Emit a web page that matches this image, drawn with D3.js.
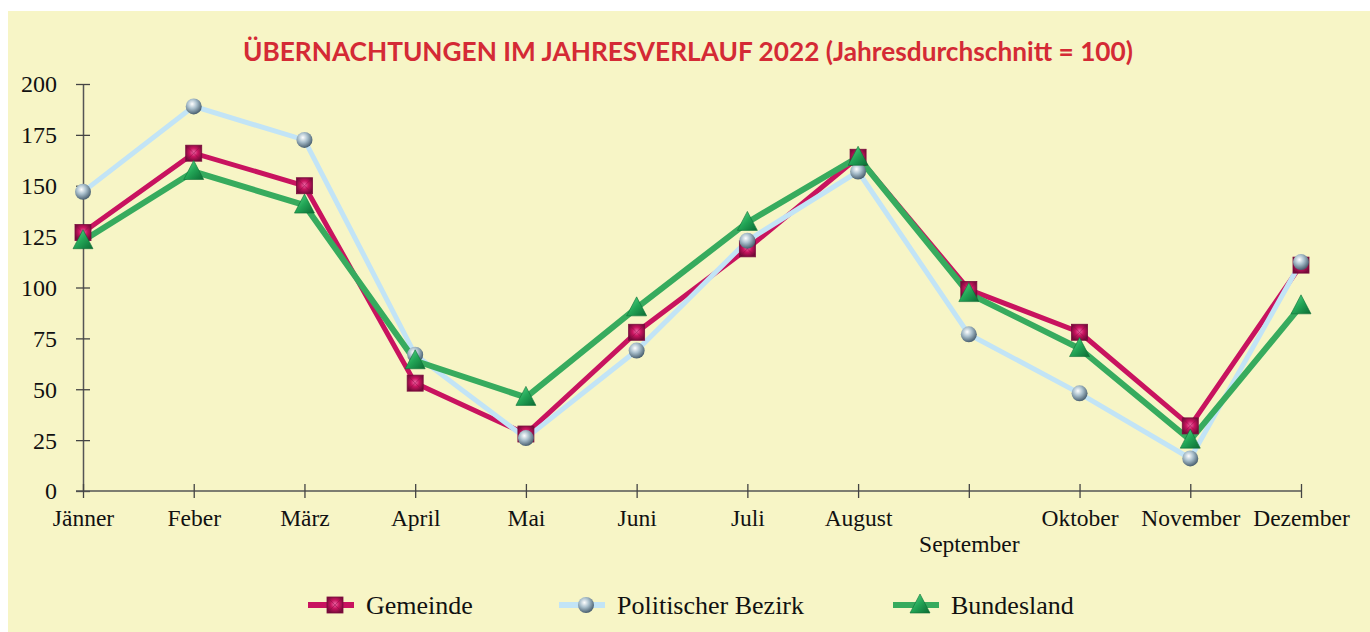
<!DOCTYPE html>
<html><head><meta charset="utf-8">
<script src="https://cdn.jsdelivr.net/npm/d3@7"></script>
<style>html,body{margin:0;padding:0;background:#fff;}svg{display:block;}</style>
</head><body>
<svg id="chart" width="1370" height="632"></svg>
<script>
const months = ["Jänner","Feber","März","April","Mai","Juni","Juli","August","September","Oktober","November","Dezember"];
const gemeinde = [127,166,150,53,28,78,119,164,99,78,32,111];
const bezirk   = [147,189,172.5,67,26,69,123,157,77,48,16,112.5];
const bundesland = [123,157,140.5,64,46,90,132,164,97,70,25,91];
const yTicks = [0,25,50,75,100,125,150,175,200];
const seriesNames = ["Gemeinde","Politischer Bezirk","Bundesland"];

const svg = d3.select("#chart");
const defs = svg.append("defs");

// background
svg.append("rect").attr("x",8).attr("y",11).attr("width",1362).attr("height",621).attr("fill","#f7f5c6");

// gradients
const gSq = defs.append("radialGradient").attr("id","gSq").attr("cx","50%").attr("cy","45%").attr("r","60%");
gSq.append("stop").attr("offset","0%").attr("stop-color","#f06aa8");
gSq.append("stop").attr("offset","45%").attr("stop-color","#c8145f");
gSq.append("stop").attr("offset","100%").attr("stop-color","#6e0a36");
const gCi = defs.append("radialGradient").attr("id","gCi").attr("cx","40%").attr("cy","35%").attr("r","65%");
gCi.append("stop").attr("offset","0%").attr("stop-color","#ffffff");
gCi.append("stop").attr("offset","45%").attr("stop-color","#a9bfcc");
gCi.append("stop").attr("offset","100%").attr("stop-color","#4a6070");
const gTr = defs.append("linearGradient").attr("id","gTr").attr("x1","0%").attr("y1","0%").attr("x2","100%").attr("y2","100%");
gTr.append("stop").attr("offset","0%").attr("stop-color","#5fe08f");
gTr.append("stop").attr("offset","50%").attr("stop-color","#22a556");
gTr.append("stop").attr("offset","100%").attr("stop-color","#0b6a33");

const x = d3.scalePoint().domain(months).range([83,1301]);
const y = d3.scaleLinear().domain([0,200]).range([491,84]);

const serif = "'Liberation Serif','Times New Roman',serif";

// title
svg.append("text").attr("x",688).attr("y",61).attr("text-anchor","middle")
  .attr("font-family","Lato, 'Open Sans', sans-serif").attr("font-weight","bold").attr("font-size",26)
  .attr("fill","#d42a35").attr("textLength",890).attr("lengthAdjust","spacingAndGlyphs")
  .text("ÜBERNACHTUNGEN IM JAHRESVERLAUF 2022 (Jahresdurchschnitt = 100)");

// y axis
const yAxis = svg.append("g").attr("transform","translate(83,0)")
  .call(d3.axisLeft(y).tickValues(yTicks).tickSize(7).tickSizeOuter(0).tickPadding(19));
yAxis.select(".domain").attr("stroke","#555").attr("stroke-width",1.5);
yAxis.selectAll(".tick line").attr("stroke","#444").attr("stroke-width",1.3).attr("x2",7).attr("x1",-7);
yAxis.selectAll(".tick text").attr("font-family",serif).attr("font-size",24).attr("fill","#111").attr("dy","0.33em");

// x axis
const xAxis = svg.append("g").attr("transform","translate(0,491)")
  .call(d3.axisBottom(x).tickSize(7).tickSizeOuter(0).tickPadding(12));
xAxis.select(".domain").attr("stroke","#555").attr("stroke-width",1.5).attr("d","M76,0H1301");
xAxis.selectAll(".tick line").attr("stroke","#444").attr("stroke-width",1.3).attr("y1",-7).attr("y2",7);
xAxis.selectAll(".tick text").attr("font-family",serif).attr("font-size",23.5).attr("fill","#111")
  .attr("y", d => d === "September" ? 44 : 18);

const line = d3.line().x((d,i)=>x(months[i])).y(d=>y(d));

const series = [
  {name:seriesNames[0], data:gemeinde, color:"#c8135f", width:5, marker:"square"},
  {name:seriesNames[1], data:bezirk, color:"#c2e4f6", width:5, marker:"circle"},
  {name:seriesNames[2], data:bundesland, color:"#37ab5e", width:6, marker:"triangle"}
];

function drawMarker(g, type, cx, cy){
  if(type==="square"){
    g.append("rect").attr("x",cx-8).attr("y",cy-8).attr("width",16).attr("height",16).attr("fill","url(#gSq)").attr("stroke","#7a0b3c").attr("stroke-width",0.8);
    g.append("path").attr("d",`M${cx-8},${cy-8}L${cx+8},${cy+8}M${cx+8},${cy-8}L${cx-8},${cy+8}`).attr("stroke","#8d0f48").attr("stroke-width",0.8).attr("opacity",0.6);
  } else if(type==="circle"){
    g.append("circle").attr("cx",cx).attr("cy",cy).attr("r",8).attr("fill","url(#gCi)");
  } else {
    g.append("path").attr("d",`M${cx},${cy-11}L${cx+10},${cy+8}L${cx-10},${cy+8}Z`).attr("fill","url(#gTr)").attr("stroke","#0d6e35").attr("stroke-width",0.6);
  }
}

series.forEach(s=>{
  svg.append("path").datum(s.data).attr("d",line).attr("fill","none")
    .attr("stroke",s.color).attr("stroke-width",s.width).attr("stroke-linejoin","miter");
});
series.forEach(s=>{
  const g = svg.append("g");
  s.data.forEach((v,i)=>drawMarker(g, s.marker, x(months[i]), y(v)));
});

// legend
const legendX = [308, 559, 893];
series.forEach((s,i)=>{
  const lx = legendX[i], ly = 605;
  svg.append("line").attr("x1",lx).attr("x2",lx+46).attr("y1",ly).attr("y2",ly).attr("stroke",s.color).attr("stroke-width",6);
  const g = svg.append("g");
  drawMarker(g, s.marker, lx+27, ly);
  svg.append("text").attr("x",lx+58).attr("y",ly+9).attr("font-family",serif)
    .attr("font-size",26).attr("fill","#111").text(s.name);
});
</script>
</body></html>
